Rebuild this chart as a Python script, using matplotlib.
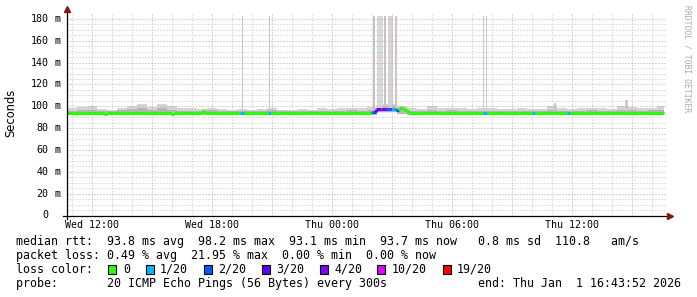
import matplotlib
matplotlib.use("Agg")
import matplotlib.pyplot as plt
from matplotlib.patches import Rectangle
from matplotlib.lines import Line2D
import numpy as np

W, H = 697, 297
MONO = "DejaVu Sans Mono"

# hours since Wed 00:00, window ends Thu 16:43:52
t_start, t_end = 10.731, 40.731
data_end = 40.6

# smoke (ping spread), one value per half hour starting 10.75 h
smoke_t0 = 10.75
smoke_step = 0.5
smoke_hi = [98, 99, 100, 97.5, 97, 98.5, 100, 102, 99, 102.5,
            100, 98, 98, 97.5, 98, 97.5, 97, 97.5, 97, 97.5,
            98.5, 97, 97, 97.5, 97, 98, 97.5, 98, 98.5, 98,
            99.5, 102, 102, 100.5, 98, 97.5, 100, 98, 98.5, 98,
            97.5, 98, 98, 97.5, 97.5, 98, 97.5, 97.5, 100.5, 98,
            97.5, 98, 98.5, 98, 97.5, 100, 99, 98, 98.5, 100]
smoke_mid = [96, 96.5, 97, 95.8, 95.7, 96.3, 97.5, 98, 96.5, 98.5,
             97, 96, 96, 95.8, 96.5, 95.8, 95.7, 95.8, 95.7, 95.8,
             96.3, 95.7, 95.7, 95.8, 95.7, 96, 95.8, 96, 96.3, 96,
             97, 100, 100, 98.5, 96, 95.8, 97, 96, 96.3, 96,
             95.8, 96, 96, 95.8, 95.8, 96, 95.8, 95.8, 97, 96,
             95.8, 96, 96.3, 96, 95.8, 97, 96.5, 96, 96.3, 97]
smoke_lo = [91.8, 91.8, 91.7, 91.8, 91.8, 91.7, 91.7, 91.8, 91.8, 91.7,
            91.8, 91.8, 91.8, 91.8, 91.7, 91.8, 91.8, 91.8, 91.8, 91.8,
            91.7, 91.8, 91.8, 91.8, 91.8, 91.8, 91.8, 91.8, 91.8, 91.8,
            92.0, 94.5, 94.5, 93.0, 91.8, 91.8, 91.8, 91.8, 91.8, 91.8,
            91.8, 91.8, 91.8, 91.8, 91.8, 91.8, 91.8, 91.8, 91.8, 91.8,
            91.8, 91.8, 91.8, 91.8, 91.8, 91.8, 91.8, 91.8, 91.8, 91.8]

# single slow pings reaching far up
spike_t = [19.5, 20.85, 26.1, 26.38, 26.63, 26.9, 27.18, 31.55, 31.7, 35.15, 38.7]
spike_w = [0.08, 0.08, 0.1, 0.3, 0.08, 0.25, 0.1, 0.08, 0.08, 0.1, 0.15]
spike_top = [183, 183, 183, 183, 183, 183, 183, 183, 183, 103, 106]
spike_col = ['#c8c8c8', '#c8c8c8', '#c4c4c4', '#dadada', '#c4c4c4', '#d4d4d4',
             '#c8c8c8', '#cccccc', '#cccccc', '#c4c4c4', '#cccccc']

# median rtt segments: start hour, value (ms), lost pings of 20
med_t = [10.73, 12.6, 12.75, 15.95, 16.1, 17.5, 17.65, 19.4, 19.6, 20.8,
         20.95, 26.0, 26.2, 26.45, 26.75, 27.0, 27.2, 27.35, 27.55, 27.7,
         27.85, 28.0, 31.55, 31.75, 34.0, 34.15, 35.75, 35.9]
med_v = [93.8, 93.1, 93.8, 93.2, 93.7, 95.8, 93.7, 93.5, 93.7, 93.6,
         93.7, 95.2, 97.4, 97.8, 97.2, 97.3, 97.0, 98.2, 97.2, 95.6,
         94.3, 93.7, 93.5, 93.7, 93.5, 93.7, 93.5, 93.7]
med_loss = [0, 0, 0, 0, 0, 0, 0, 1, 0, 1,
            0, 2, 3, 4, 2, 1, 2, 0, 0, 0,
            0, 0, 1, 0, 1, 0, 1, 0]

loss_levels = [0, 1, 2, 3, 4, 10, 19]
loss_labels = ['0', '1/20', '2/20', '3/20', '4/20', '10/20', '19/20']
loss_colors = ['#26ff00', '#00b8ff', '#0059ff', '#5e00ff', '#7e00ff', '#dd00ff', '#ff0000']

x_ticks = [12, 18, 24, 30, 36]
x_labels = ['Wed 12:00', 'Wed 18:00', 'Thu 00:00', 'Thu 06:00', 'Thu 12:00']
y_ticks = [0, 20, 40, 60, 80, 100, 120, 140, 160, 180]


def loss_color(n):
    for lv, c in zip(loss_levels, loss_colors):
        if n <= lv:
            return c
    return loss_colors[-1]


def fx(x):
    return x / W


def fy(y):
    return 1 - y / H


fig = plt.figure(figsize=(W / 100, H / 100), dpi=100, facecolor='white')
ax_l, ax_r, ax_t, ax_b = 67, 667, 14, 215.5
ax = fig.add_axes([fx(ax_l), fy(ax_b), (ax_r - ax_l) / W, (ax_b - ax_t) / H])
ax.set_facecolor('white')
ax.set_xlim(t_start, t_end)
ax.set_ylim(0, 184.5)
for s in ax.spines.values():
    s.set_visible(False)

# grid
dots = (0, (1, 2))
for h in np.arange(11, 41):
    major = (h % 3 == 0)
    ax.axvline(h, color='#dd9a9a' if major else '#c4c4c4', lw=0.72, ls=dots, zorder=3)
for v in np.arange(5, 185, 5):
    major = (v % 20 == 0)
    ax.axhline(v, color='#dd9a9a' if major else '#c4c4c4', lw=0.72, ls=dots, zorder=3)

# smoke
edges = np.minimum(smoke_t0 + smoke_step * np.arange(len(smoke_hi) + 1), data_end)
hi = np.append(smoke_hi, smoke_hi[-1])
mid = np.append(smoke_mid, smoke_mid[-1])
lo = np.append(smoke_lo, smoke_lo[-1])
ax.fill_between(edges, lo, hi, step='post', color='#d4d4d4', lw=0, zorder=2)
ax.fill_between(edges, lo, mid, step='post', color='#b4b4b4', lw=0, zorder=2)
for t, w, top, c in zip(spike_t, spike_w, spike_top, spike_col):
    ax.add_patch(Rectangle((t - w / 2, 96), w, top - 96, color=c, lw=0, zorder=2))

# median line coloured by loss
ends = med_t[1:] + [data_end]
for i, (t0, t1, v, n) in enumerate(zip(med_t, ends, med_v, med_loss)):
    c = loss_color(n)
    ax.plot([t0, t1], [v, v], color=c, lw=2.2, solid_capstyle='butt', zorder=5)
    if i > 0:
        ax.plot([t0, t0], [med_v[i - 1], v], color=c, lw=2.2, solid_capstyle='butt', zorder=5)

# ticks
ax.set_xticks(x_ticks)
ax.set_xticklabels(x_labels, fontfamily=MONO, fontsize=7.2)
ax.tick_params(axis='x', length=0, pad=3.2)
ax.set_yticks([])
ytr = ax.get_yaxis_transform()
for v in y_ticks:
    ax.text((48.5 - ax_l) / (ax_r - ax_l), v, str(v), transform=ytr, ha='right', va='center',
            fontfamily=MONO, fontsize=7.2)
    if v:
        ax.text((54.5 - ax_l) / (ax_r - ax_l), v, 'm', transform=ytr, ha='left', va='center',
                fontfamily=MONO, fontsize=7.2)

# axes with arrows
fig.add_artist(Line2D([fx(ax_l), fx(ax_l)], [fy(ax_b + 3), fy(9)], color='black', lw=0.9))
fig.add_artist(Line2D([fx(63), fx(669)], [fy(ax_b), fy(ax_b)], color='black', lw=0.9))
fig.add_artist(Line2D([fx(ax_l)], [fy(9)], marker='^', ms=4, color='#8b1010', lw=0))
fig.add_artist(Line2D([fx(670)], [fy(ax_b)], marker='>', ms=4, color='#8b1010', lw=0))

fig.text(fx(11), fy(113), 'Seconds', rotation=90, ha='center', va='center',
         fontfamily='DejaVu Sans', fontsize=8.3)
fig.text(fx(687), fy(5), 'RRDTOOL / TOBI OETIKER', rotation=270, ha='center', va='top',
         fontfamily=MONO, fontsize=5.8, color='#aaaaaa')

# legend block
FS = 8.4
lines = [
    'median rtt:  93.8 ms avg  98.2 ms max  93.1 ms min  93.7 ms now   0.8 ms sd  110.8   am/s',
    'packet loss: 0.49 % avg  21.95 % max  0.00 % min  0.00 % now',
    None,
    'probe:       20 ICMP Echo Pings (56 Bytes) every 300s',
]
line_y = [241.5, 255.5, 269.3, 283.3]
for txt, y in zip(lines, line_y):
    if txt:
        fig.text(fx(16), fy(y), txt, ha='left', va='center', fontfamily=MONO, fontsize=FS)
fig.text(fx(681), fy(line_y[3]), 'end: Thu Jan  1 16:43:52 2026', ha='right', va='center',
         fontfamily=MONO, fontsize=FS)
fig.text(fx(16), fy(line_y[2]), 'loss color:', ha='left', va='center', fontfamily=MONO, fontsize=FS)
box_x = [108, 146, 204, 262, 320, 377, 443]
text_x = [123, 160, 218, 276, 334, 392, 457]
for bx, tx, lab, c in zip(box_x, text_x, loss_labels, loss_colors):
    fig.add_artist(Rectangle((fx(bx), fy(line_y[2] + 4.5)), 8 / W, 9 / H, facecolor=c,
                             edgecolor='black', lw=0.8, transform=fig.transFigure))
    fig.text(fx(tx), fy(line_y[2]), lab, ha='left', va='center', fontfamily=MONO, fontsize=FS)

fig.savefig('out.png', dpi=100, facecolor='white')
